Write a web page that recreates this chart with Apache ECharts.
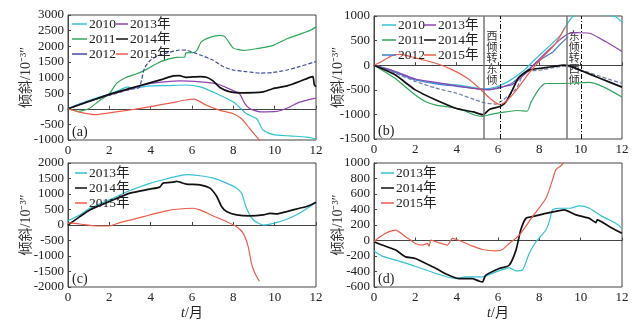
<!DOCTYPE html>
<html>
<head>
<meta charset="utf-8">
<script src="https://cdn.jsdelivr.net/npm/echarts@6/dist/echarts.min.js"></script>
<style>
  html, body { margin: 0; padding: 0; background: #fff; }
  #chart { width: 636px; height: 330px; }
</style>
</head>
<body>
<div id="chart"></div>
<script>
// panel (a)
const a2010 = [[0,0],[0.5,140],[1,260],[1.5,370],[2,470],[2.5,600],[2.9,700],[3.1,650],[3.5,690],[4,730],[4.8,740],[5.7,760],[6.4,700],[7.2,480],[8,216],[8.64,-160],[9.13,-320],[9.3,-530],[9.45,-690],[9.93,-830],[10.74,-870],[11.55,-905],[11.8,-936],[12,-970]];
const a2011 = [[0,0],[0.5,-80],[1,0],[1.5,250],[2,480],[2.35,810],[2.8,1000],[3.3,1110],[3.8,1260],[4.3,1450],[4.8,1580],[5.25,1645],[5.65,1650],[5.7,1790],[6.1,1800],[6.25,1880],[6.45,2140],[6.9,2290],[7.35,2350],[7.6,2300],[8.0,1940],[8.5,1870],[9.1,1920],[9.9,2020],[10.6,2240],[11.4,2430],[11.7,2500],[12,2620]];
const a2012 = [[0,0],[1,250],[2,430],[3,620],[3.45,680],[3.55,900],[3.7,1300],[4,1560],[4.45,1720],[4.9,1805],[5.4,1880],[5.75,1870],[6.4,1720],[7,1560],[7.5,1350],[8,1240],[8.6,1190],[9.3,1140],[9.9,1160],[10.6,1240],[11.2,1350],[12,1510]];
const a2013 = [[0,0],[1,230],[2,440],[3,630],[4,810],[4.8,870],[5.4,890],[6.4,860],[7.2,800],[7.85,620],[8.3,480],[8.55,170],[8.8,0],[9.3,-100],[10.1,-85],[10.7,50],[11.2,210],[12,340]];
const a2014 = [[0,0],[1,230],[2,460],[3,650],[4,835],[4.6,950],[5.1,1050],[5.4,1060],[5.7,1005],[6.4,1030],[6.7,1010],[7.0,900],[7.35,680],[7.8,550],[8.4,510],[9.45,540],[9.9,640],[10.6,730],[11.2,870],[11.7,1005],[11.85,1030],[11.92,760],[12,710]];
const a2015 = [[0,0],[0.5,-100],[1.3,-190],[2,-130],[3,-40],[4,70],[5,190],[5.7,280],[6.1,310],[6.7,110],[7.35,-50],[8,-160],[8.4,-320],[8.8,-640],[9.2,-960],[9.35,-1060]];

// panel (b)
const b2010 = [[0,0],[1,-123],[2,-281],[3,-364],[4,-398],[5,-467],[5.3,-488],[5.9,-446],[6.5,-329],[7.2,-123],[7.8,120],[8.5,394],[9,600],[9.3,807],[9.6,979],[10,1048],[11,1030],[11.7,979],[12,876]];
const b2011 = [[0,0],[1,-260],[1.5,-432],[2,-605],[2.5,-742],[3,-811],[3.6,-846],[4.3,-915],[4.9,-1018],[5.25,-1039],[5.6,-1004],[6.2,-960],[6.9,-921],[7.4,-936],[7.6,-750],[8.0,-475],[8.3,-372],[9.1,-372],[10.4,-351],[11.1,-440],[12,-647]];
const b2012 = [[0,0],[1,-140],[2,-300],[3,-380],[4,-430],[5,-480],[5.5,-490],[6,-470],[6.5,-400],[6.74,-344],[7.2,-180],[7.71,0],[8.2,150],[8.67,275],[9.0,420],[9.4,580]];
const b2013 = [[0,0],[1,-123],[2,-281],[3,-350],[4,-420],[5,-480],[5.6,-500],[6.1,-446],[6.7,-390],[7.3,-180],[7.8,40],[8.5,330],[9.0,520],[9.4,640],[10,660],[10.5,640],[11.2,480],[12,280]];
const b2014 = [[0,0],[1,-191],[2,-501],[3,-708],[4,-880],[4.8,-949],[5.25,-1004],[5.35,-990],[5.6,-894],[6.1,-840],[6.4,-736],[6.7,-501],[7.0,-250],[7.5,-100],[8.2,-54],[8.8,-19],[9.15,0],[9.5,-19],[10.1,-123],[10.9,-260],[12,-446]];
const b2015 = [[0,0],[0.3,60],[0.9,200],[1.3,220],[2,150],[2.9,50],[3.7,-75],[4.5,-260],[5.1,-467],[5.6,-670],[6.1,-800],[6.4,-730],[6.9,-500],[7.5,-160],[8.1,130],[8.8,450],[9.25,770]];
const bDashed = [[0,0],[1,-157],[2,-329],[3,-467],[4,-570],[4.7,-674],[5.33,-763],[5.9,-790],[6.2,-720],[6.9,-467],[7.2,-200],[7.5,-123],[8.2,-90],[8.8,-40],[9.2,-20],[9.5,-40],[10.1,-110],[10.9,-220],[12,-372]];
const turnLines = [5.33, 6.1, 9.32, 10.05];
const turnTexts = ['西\n倾\n转\n东\n倾', '东\n倾\n转\n西\n倾'];

// panel (c)
const c2013 = [[0,140],[0.57,324],[1.05,540],[2,811],[3,1113],[4,1351],[4.6,1460],[5.1,1546],[5.73,1622],[6.38,1589],[7.03,1514],[7.67,1351],[8.16,1189],[8.4,1027],[8.64,540],[8.97,162],[9.45,0],[9.94,54],[10.58,184],[11.2,378],[12,724]];
const c2014 = [[0,0],[0.57,270],[1.05,486],[2,757],[3,1027],[3.96,1157],[4.44,1222],[4.6,1351],[5.1,1384],[5.25,1405],[5.73,1319],[6.38,1297],[6.87,1189],[7.2,919],[7.43,595],[7.67,432],[8.16,324],[8.8,292],[9.45,324],[9.77,378],[10.1,356],[10.58,432],[11.2,540],[11.55,595],[12,735]];
const c2015 = [[0,40],[0.08,70],[0.57,32],[1.37,-32],[2,-32],[2.5,76],[3.15,184],[3.96,324],[4.77,454],[5.25,508],[6.06,540],[6.38,486],[7.03,292],[7.67,108],[8.16,-54],[8.48,-270],[8.72,-703],[8.88,-1243],[9.05,-1567],[9.26,-1816]];

// panel (d)
const d2013 = [[0,-137],[0.4,-202],[1.05,-254],[2,-332],[3,-427],[3.96,-492],[4.44,-470],[5.25,-470],[5.9,-405],[6.38,-362],[6.54,-350],[6.87,-392],[7.2,-375],[7.51,-167],[7.84,-16],[8.32,135],[8.48,243],[8.64,395],[8.97,416],[9.45,416],[9.94,447],[10.42,416],[11.07,308],[11.7,222],[12,157]];
const d2014 = [[0,-16],[0.4,-59],[1.05,-124],[1.53,-211],[2,-232],[3,-362],[3.63,-449],[4.12,-492],[4.77,-492],[5.1,-526],[5.25,-535],[5.4,-449],[6.06,-362],[6.54,-319],[6.87,-124],[7.1,135],[7.35,286],[7.67,308],[8.32,351],[8.97,386],[9.2,395],[9.77,330],[10.42,286],[10.74,230],[10.8,265],[11.4,178],[12,92]];
const d2015 = [[0,-16],[0.24,40],[0.73,114],[1.05,135],[1.53,49],[2,-38],[2.34,-59],[2.58,-38],[2.67,-72],[2.75,5],[3,-16],[3.55,-59],[3.8,27],[4.28,-16],[4.77,-72],[5.25,-116],[5.9,-133],[6.22,-116],[6.54,-38],[7.03,70],[7.67,308],[8.32,546],[8.64,784],[8.8,914],[9.05,965],[9.2,1009]];

const yRanges = [[-1000, 3000, 500], [-1500, 1000, 500], [-2000, 2000, 500], [-600, 1000, 200]];
const xTicks = [0, 12, 2];

const SERIF = '"Liberation Serif", "Noto Sans CJK SC", serif';
const C = { cyan: '#33c1d6', green: '#2fa75a', navy: '#3f4c9e', purple: '#9141b3', black: '#111111', red: '#ee5d4a', blue: '#3f7dd0', gray: '#6c7aa6' };

const chart = echarts.init(document.getElementById('chart'));

const grids = [
  { left: 68, top: 15, width: 248, height: 125 },
  { left: 374, top: 16, width: 248, height: 123 },
  { left: 68, top: 163, width: 248, height: 124 },
  { left: 374, top: 163, width: 248, height: 124 }
].map(g => Object.assign({ show: true, borderColor: '#444', borderWidth: 1, backgroundColor: 'transparent' }, g));

const xAxes = grids.map((g, i) => ({
  type: 'value', gridIndex: i, min: xTicks[0], max: xTicks[1], interval: xTicks[2],
  name: i >= 2 ? '{i|t}/月' : '', nameLocation: 'middle', nameGap: 19,
  nameTextStyle: { fontFamily: SERIF, fontSize: 14, color: '#222', rich: { i: { fontStyle: 'italic', fontFamily: SERIF, fontSize: 14, color: '#222' } } },
  axisLine: { lineStyle: { color: '#444' } },
  axisTick: { inside: true, length: 3, lineStyle: { color: '#444' } },
  axisLabel: { fontFamily: SERIF, fontSize: 13, color: '#222', margin: 4 },
  splitLine: { show: false }
}));

const yAxes = yRanges.map((r, i) => ({
  type: 'value', gridIndex: i, min: r[0], max: r[1], interval: r[2],
  name: '倾斜/10⁻³″', nameLocation: 'middle', nameGap: i % 2 ? 29 : 35, nameRotate: 90,
  nameMoveOverlap: false,
  nameTextStyle: { fontFamily: SERIF, fontSize: 14, color: '#333' },
  axisLine: { lineStyle: { color: '#444' } },
  axisTick: { inside: true, length: 3, lineStyle: { color: '#444' } },
  axisLabel: { fontFamily: SERIF, fontSize: 13, color: '#222', margin: 4, formatter: v => String(v) },
  splitLine: { show: false }
}));

function line(name, idx, data, color, extra) {
  return Object.assign({
    name, type: 'line', xAxisIndex: idx, yAxisIndex: idx, data, color,
    symbol: 'none', smooth: 0.2, clip: true,
    lineStyle: { width: 1.2, color }
  }, extra || {});
}
const dash = c => ({ lineStyle: { width: 1.2, color: c, type: [4, 2] } });
const thick = c => ({ lineStyle: { width: 1.7, color: c } });

const series = [
  line('a2010', 0, a2010, C.cyan),
  line('a2011', 0, a2011, C.green),
  line('a2012', 0, a2012, C.navy, dash(C.navy)),
  line('a2013年', 0, a2013, C.purple),
  line('a2014年', 0, a2014, C.black, thick(C.black)),
  line('a2015年', 0, a2015, C.red),
  line('b2010', 1, b2010, C.cyan),
  line('b2011', 1, b2011, C.green),
  line('b2012', 1, b2012, C.blue),
  line('b2013年', 1, b2013, C.purple),
  line('bdash', 1, bDashed, C.gray, dash(C.gray)),
  line('b2014年', 1, b2014, C.black, Object.assign(thick(C.black), {
    markLine: {
      silent: true, symbol: 'none', label: { show: false },
      data: turnLines.map((x, k) => ({
        xAxis: x,
        lineStyle: k % 2 === 0 ? { color: '#777', width: 1.5, type: 'solid' } : { color: '#111', width: 1, type: [5, 2, 1, 2] }
      }))
    }
  })),
  line('b2015年', 1, b2015, C.red),
  line('c2013年', 2, c2013, C.cyan),
  line('c2014年', 2, c2014, C.black, thick(C.black)),
  line('c2015年', 2, c2015, C.red),
  line('d2013年', 3, d2013, C.cyan),
  line('d2014年', 3, d2014, C.black, thick(C.black)),
  line('d2015年', 3, d2015, C.red)
];

function legend(names, left, top, w) {
  return {
    data: names, left, top, orient: 'vertical', itemGap: 1, itemWidth: w, itemHeight: 1.5,
    icon: 'rect', padding: 0, selectedMode: false, formatter: n => n.slice(1),
    textStyle: { fontFamily: SERIF, fontSize: 13.5, color: '#222', lineHeight: 14, padding: [0, 0, 0, -3] }
  };
}
const legends = [
  legend(['a2010', 'a2011', 'a2012'], 72, 17, 15),
  legend(['a2013年', 'a2014年', 'a2015年'], 116, 17, 12),
  legend(['b2010', 'b2011', 'b2012'], 382, 18, 14),
  legend(['b2013年', 'b2014年', 'b2015年'], 424, 18, 12),
  legend(['c2013年', 'c2014年', 'c2015年'], 75, 166, 12),
  legend(['d2013年', 'd2014年', 'd2015年'], 381, 166, 13)
];

const panelLabels = ['(a)', '(b)', '(c)', '(d)'];

chart.setOption({
  animation: false,
  grid: grids, xAxis: xAxes, yAxis: yAxes, legend: legends, series
});

const graphics = panelLabels.map((t, i) => ({
  type: 'text', left: grids[i].left + 4, top: grids[i].top + grids[i].height - 15,
  style: { text: t, fontFamily: SERIF, fontSize: 14, fill: '#222' }
}));
[[turnLines[0], turnLines[1]], [turnLines[2], turnLines[3]]].forEach((pair, k) => {
  const p = chart.convertToPixel({ gridIndex: 1 }, [(pair[0] + pair[1]) / 2, 700]);
  graphics.push({
    type: 'text', x: p[0], y: p[1],
    style: { text: turnTexts[k], fontFamily: '"Noto Sans CJK SC", sans-serif', fontSize: 11, lineHeight: 11, fill: '#333', align: 'center', verticalAlign: 'top' }
  });
});
chart.setOption({ graphic: graphics });
</script>
</body>
</html>
